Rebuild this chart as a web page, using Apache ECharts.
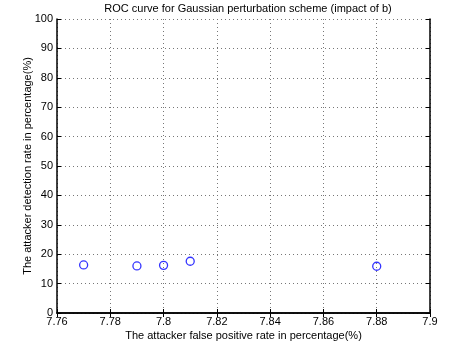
<!DOCTYPE html>
<html><head><meta charset="utf-8">
<script src="https://cdn.jsdelivr.net/npm/echarts@6/dist/echarts.min.js"></script>
<style>html,body{margin:0;padding:0;background:#fff}#c{width:455px;height:351px}</style>
</head><body><div id="c"></div>
<script>
const fpRate = [7.77, 7.79, 7.80, 7.81, 7.88];
const detRate = [16.35, 16.0, 16.2, 17.6, 15.9];
const xTicks = [7.76, 7.78, 7.8, 7.82, 7.84, 7.86, 7.88, 7.9];
const yTicks = [0, 10, 20, 30, 40, 50, 60, 70, 80, 90, 100];

const font = 'Liberation Sans, Arial, sans-serif';
const chart = echarts.init(document.getElementById('c'));
const axisLine = {show: true, lineStyle: {color: '#000', width: 1.5}};
const tick = {show: true, inside: true, length: 4, lineStyle: {color: '#000', width: 1}};
const grid = {show: true, lineStyle: {color: '#777', type: [1, 3], width: 1}};
chart.setOption({
  animation: false,
  title: {text: 'ROC curve for Gaussian perturbation scheme (impact of b)', left: 243, textAlign: 'center', top: -2,
    textStyle: {fontFamily: font, fontSize: 11, fontWeight: 'normal', color: '#000'}},
  grid: {left: 57, top: 19, right: 25, bottom: 38},
  xAxis: [{type: 'value', min: xTicks[0], max: xTicks[xTicks.length - 1], interval: 0.02,
    name: 'The attacker false positive rate in percentage(%)', nameLocation: 'middle', nameGap: 17, nameMoveOverlap: false,
    nameTextStyle: {fontFamily: font, fontSize: 11, color: '#000'},
    axisLine, axisTick: tick, splitLine: grid,
    axisLabel: {fontFamily: font, fontSize: 11, color: '#000', margin: 3, formatter: v => String(+v.toFixed(2))}},
    {type: 'value', position: 'top', min: xTicks[0], max: xTicks[xTicks.length - 1], interval: 0.02,
    axisLine, axisTick: tick, splitLine: {show: false}, axisLabel: {show: false}}],
  yAxis: [{type: 'value', min: yTicks[0], max: yTicks[yTicks.length - 1], interval: 10,
    name: 'The attacker detection rate in percentage(%)', nameLocation: 'middle', nameGap: 24, nameMoveOverlap: false,
    nameTextStyle: {fontFamily: font, fontSize: 11, color: '#000'},
    axisLine, axisTick: tick, splitLine: grid,
    axisLabel: {fontFamily: font, fontSize: 11, color: '#000', margin: 4}},
    {type: 'value', position: 'right', min: yTicks[0], max: yTicks[yTicks.length - 1], interval: 10,
    axisLine, axisTick: tick, splitLine: {show: false}, axisLabel: {show: false}}],
  series: [{type: 'scatter', data: fpRate.map((x, i) => [x, detRate[i]]), symbol: 'circle', symbolSize: 8,
    itemStyle: {color: 'transparent', borderColor: '#0000ff', borderWidth: 1.3}}]
});
</script></body></html>
